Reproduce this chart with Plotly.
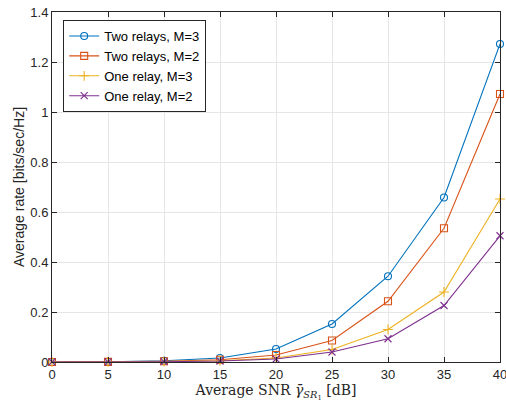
import plotly.graph_objects as go

snr = [0, 5, 10, 15, 20, 25, 30, 35, 40]
two_m3 = [0.0003, 0.001, 0.005, 0.016, 0.052, 0.152, 0.343, 0.658, 1.272]
two_m2 = [0.0002, 0.0007, 0.003, 0.009, 0.028, 0.086, 0.243, 0.535, 1.072]
one_m3 = [0.0001, 0.0004, 0.0015, 0.005, 0.016, 0.05, 0.13, 0.28, 0.652]
one_m2 = [0.0001, 0.0003, 0.0012, 0.004, 0.012, 0.04, 0.093, 0.226, 0.505]

names = ["Two relays, M=3", "Two relays, M=2", "One relay, M=3", "One relay, M=2"]
colors = ["#0072BD", "#D95319", "#EDB120", "#7E2F8E"]
symbols = ["circle-open", "square-open", "cross-thin-open", "x-thin-open"]
series = [two_m3, two_m2, one_m3, one_m2]

fig = go.Figure()
for n, c, s, y in zip(names, colors, symbols, series):
    fig.add_trace(go.Scatter(
        x=snr, y=y, name=n, mode="lines+markers",
        line=dict(color=c, width=1.1),
        marker=dict(symbol=s, size=7, color=c, line=dict(color=c, width=1.1)),
        cliponaxis=False,
    ))

axis_common = dict(
    showline=True, linecolor="#262626", linewidth=1, mirror="ticks",
    ticks="inside", ticklen=5, tickcolor="#262626",
    showgrid=True, gridcolor="#e6e6e6", gridwidth=1, zeroline=False,
    tickfont=dict(family="Liberation Sans, Arial", size=13, color="#262626"),
    ticklabeloverflow="allow",
    automargin=False,
)

fig.update_layout(
    width=506, height=408,
    margin=dict(l=52, r=6, t=12, b=46, autoexpand=False),
    paper_bgcolor="white", plot_bgcolor="white",
    xaxis=dict(range=[0, 40], tickvals=[0, 5, 10, 15, 20, 25, 30, 35, 40],
               title=dict(text="Average SNR <i>γ̄</i><sub><i>SR</i><sub>1</sub></sub> [dB]",
                          font=dict(family="DejaVu Serif, Liberation Serif, serif", size=14, color="#262626"),
                          standoff=4),
               **axis_common),
    yaxis=dict(range=[0, 1.4], tickvals=[0, 0.2, 0.4, 0.6, 0.8, 1, 1.2, 1.4],
               ticktext=["0", "0.2", "0.4", "0.6", "0.8", "1", "1.2", "1.4"],
               title=dict(text="Average rate [bits/sec/Hz]",
                          font=dict(family="Liberation Sans, Arial", size=14, color="#262626"),
                          standoff=2),
               **axis_common),
    legend=dict(x=0.025, y=0.977, xanchor="left", yanchor="top",
                bgcolor="white", bordercolor="#262626", borderwidth=1,
                font=dict(family="Liberation Sans, Arial", size=13, color="#000"),
                tracegroupgap=0, itemwidth=30),
    showlegend=True,
)

fig.write_html("out.html", config={"displayModeBar": False},
               post_script="document.body.style.margin='0';")
